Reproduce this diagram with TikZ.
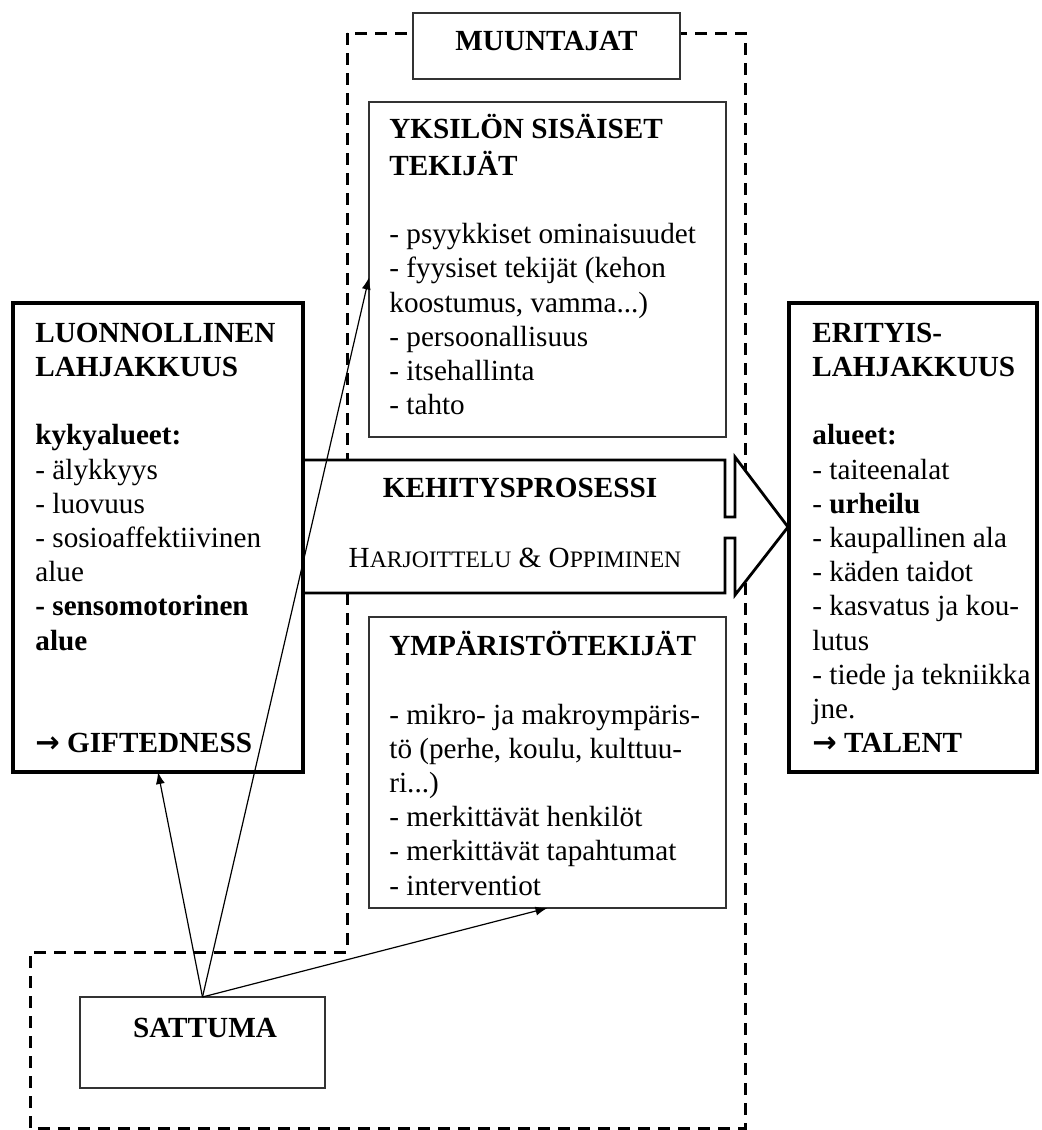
\documentclass[tikz,border=0pt]{standalone}
\usepackage{fontspec}
\setmainfont{Liberation Serif}
\newfontfamily\arrowfont{DejaVu Sans}
\usetikzlibrary{calc,arrows.meta}

\newcommand{\toarrow}{{\arrowfont\bfseries →}}

\tikzset{
  box/.style={draw=black!80,line width=1pt,rectangle,inner sep=0pt,outer sep=0pt},
  thickbox/.style={draw,line width=1.7pt,rectangle,inner sep=0pt,outer sep=0pt},
  txt/.style={anchor=north west,align=left,inner sep=0pt,font=\fontsize{14.6}{17.1}\selectfont},
  lbl/.style={anchor=base,inner sep=0pt,font=\fontsize{14.6}{17.1}\selectfont},
  ttl/.style={lbl,font=\fontsize{14.6}{17.1}\selectfont\bfseries},
  dashline/.style={line width=1.5pt,dash pattern=on 6pt off 4pt},
  conn/.style={line width=0.6pt,-{Latex[length=6pt,width=4.5pt]}}
}

\begin{document}
\begin{tikzpicture}[x=0.5pt,y=-0.5pt]
  \useasboundingbox (0,0) rectangle (1041,1130);
  % muuntajat area
  \draw[dashline] (347,33) -- (347,952) -- (30,952) -- (30,1128) -- (745,1128) -- (745,33) -- cycle;
  % development arrow
  \draw[line width=1.4pt,fill=white] (303,460) -- (725,460) -- (725,517) -- (735,517) -- (735,457)
    -- (788,527) -- (735,595) -- (735,538) -- (725,538) -- (725,593) -- (303,593);
  \node[ttl] (kehitys) at (520,497) {KEHITYSPROSESSI};
  \node[lbl] (harj) at (515,567) {H{\fontsize{11.8}{13}\selectfont ARJOITTELU} \& O{\fontsize{11.8}{13}\selectfont PPIMINEN}};
  % boxes
  \node[thickbox,minimum width=145pt,minimum height=234.5pt] (luon) at (158,537.5) {};
  \node[thickbox,minimum width=124pt,minimum height=234.5pt] (erit) at (913,537.5) {};
  \node[box,minimum width=178.5pt,minimum height=167.5pt] (yks) at (547.5,269.5) {};
  \node[box,minimum width=178.5pt,minimum height=145.5pt] (ymp) at (547.5,762.5) {};
  \node[box,fill=white,minimum width=133.5pt,minimum height=33pt] (muun) at (546.5,46) {};
  \node[box,minimum width=122.5pt,minimum height=45.5pt] (satt) at (202.5,1042.5) {};
  \node[ttl] (muuntxt) at (546.5,50) {MUUNTAJAT};
  \node[ttl] (satttxt) at (205,1037) {SATTUMA};
  % box texts
  \node[txt] (luontxt) at ($(luon.north west)+(22,15)$) {\strut\textbf{LUONNOLLINEN}\\
    \textbf{LAHJAKKUUS}\\[17.1pt]
    \textbf{kykyalueet:}\\
    - älykkyys\\
    - luovuus\\
    - sosioaffektiivinen\\
    alue\\
    \textbf{- sensomotorinen}\\
    \textbf{alue}\\[34.2pt]
    \toarrow\ \textbf{GIFTEDNESS}};
  \node[txt] (erittxt) at ($(erit.north west)+(23,15)$) {\strut\textbf{ERITYIS-}\\
    \textbf{LAHJAKKUUS}\\[17.1pt]
    \textbf{alueet:}\\
    - taiteenalat\\
    - \textbf{urheilu}\\
    - kaupallinen ala\\
    - käden taidot\\
    - kasvatus ja kou-\\
    lutus\\
    - tiede ja tekniikka\\
    jne.\\
    \toarrow\ \textbf{TALENT}};
  \node[txt] (ykstxt) at ($(yks.north west)+(20,12)$) {\strut\textbf{YKSILÖN SISÄISET}\\
    \textbf{TEKIJÄT}\\[17.1pt]
    - psyykkiset ominaisuudet\\
    - fyysiset tekijät (kehon\\
    koostumus, vamma...)\\
    - persoonallisuus\\
    - itsehallinta\\
    - tahto};
  \node[txt] (ymptxt) at ($(ymp.north west)+(20,14)$) {\strut\textbf{YMPÄRISTÖTEKIJÄT}\\[17.1pt]
    - mikro- ja makroympäris-\\
    tö (perhe, koulu, kulttuu-\\
    ri...)\\
    - merkittävät henkilöt\\
    - merkittävät tapahtumat\\
    - interventiot};
  % chance
  \draw[conn] (satt.north) -- (luon.south);
  \draw[conn] (satt.north) -- ([yshift=-4pt]yks.west);
  \draw[conn] (satt.north) -- (ymp.south);
\end{tikzpicture}
\end{document}
